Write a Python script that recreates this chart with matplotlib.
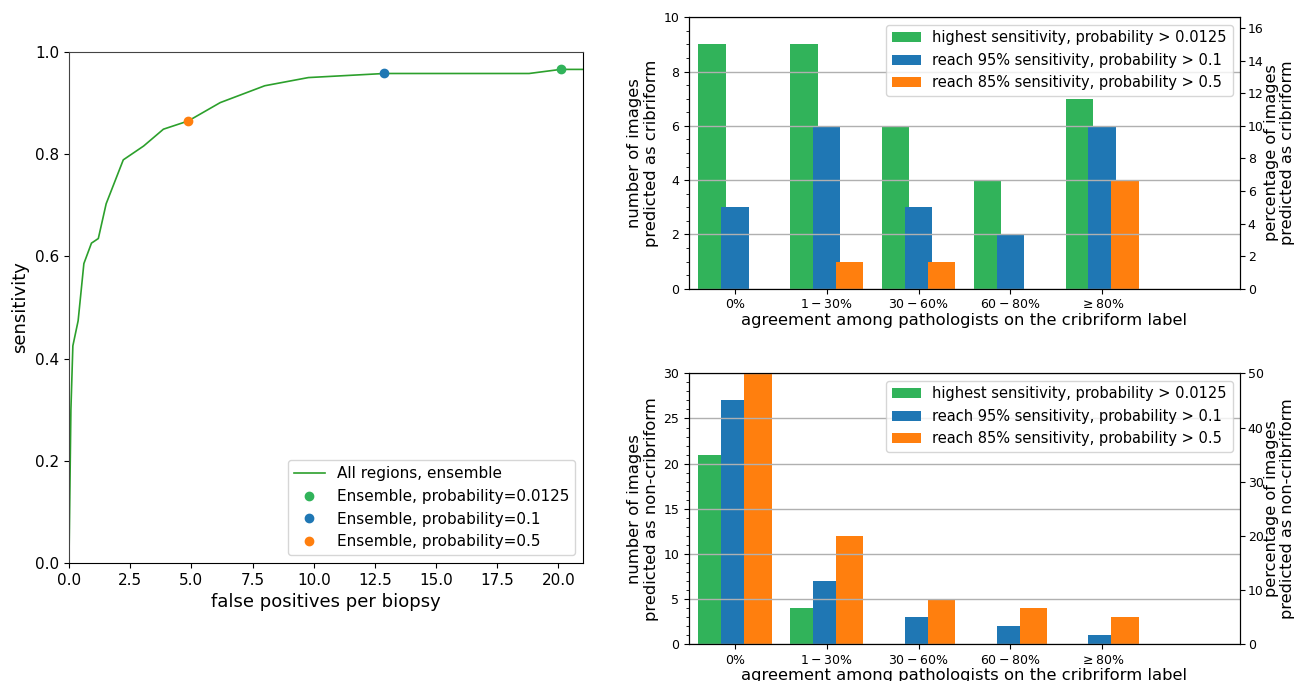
import matplotlib
matplotlib.use("Agg")
import matplotlib.pyplot as plt
import numpy as np
from matplotlib.ticker import AutoMinorLocator, MultipleLocator

GREEN = "#31b35a"
BLUE = "#1f77b4"
ORANGE = "#ff7f0e"

# FROC curve
fp = [0.0, 0.08, 0.16, 0.375, 0.61, 0.92, 1.2, 1.52, 2.22, 3.05, 3.86, 4.87,
      6.18, 8.0, 9.78, 12.89, 18.8, 20.09, 21.0]
sens = [0.0, 0.30, 0.425, 0.474, 0.586, 0.626, 0.635, 0.703, 0.789, 0.816,
        0.849, 0.865, 0.901, 0.934, 0.950, 0.958, 0.958, 0.966, 0.966]
op_fp = [20.09, 12.89, 4.87]
op_sens = [0.966, 0.958, 0.865]
op_prob = ["0.0125", "0.1", "0.5"]

categories = ["0%", r"$1-30$%", r"$30-60$%", r"$60-80$%", r"$\geq80$%"]
series = ["highest sensitivity, probability > 0.0125",
          "reach 95% sensitivity, probability > 0.1",
          "reach 85% sensitivity, probability > 0.5"]
cribriform = [[9, 9, 6, 4, 7],
              [3, 6, 3, 2, 6],
              [0, 1, 1, 0, 4]]
non_cribriform = [[21, 4, 0, 0, 0],
                  [27, 7, 3, 2, 1],
                  [30, 12, 5, 4, 3]]
n_images = 60

fig = plt.figure(figsize=(12.96, 6.81), dpi=100)

# left: FROC
ax = fig.add_axes([0.0532, 0.1733, 0.3966, 0.7503])
ax.plot(fp, sens, "-", color="#2ca02c", lw=1.2, label="All regions, ensemble")
for x, y, p, c in zip(op_fp, op_sens, op_prob, [GREEN, BLUE, ORANGE]):
    ax.plot(x, y, "o", color=c, ms=6, label=f"Ensemble, probability={p}")
ax.set_xlim(0, 21)
ax.set_ylim(0, 1.0)
ax.xaxis.set_major_locator(MultipleLocator(2.5))
ax.set_xlabel("false positives per biopsy", fontsize=13)
ax.set_ylabel("sensitivity", fontsize=13)
ax.tick_params(labelsize=11)
for s in ("left", "top"):
    ax.spines[s].set_color("#444444")
ax.legend(loc="lower right", fontsize=11)


def bar_panel(rect, data, ylim, ystep, pstep, ylab, plab):
    a = fig.add_axes(rect)
    x = np.arange(len(categories))
    colors = [GREEN, BLUE, ORANGE]
    for i, (vals, name) in enumerate(zip(data, series)):
        a.bar(x + (i - 1) * 0.25, vals, 0.3, color=colors[i], label=name)
    a.set_xlim(-0.5, 5.5)
    a.set_ylim(0, ylim)
    a.set_xticks(x)
    a.set_xticklabels(categories)
    a.yaxis.set_major_locator(MultipleLocator(ystep))
    a.yaxis.set_minor_locator(AutoMinorLocator())
    a.grid(axis="y", color="#b0b0b0", lw=1)
    a.tick_params(labelsize=9)
    a.set_xlabel("agreement among pathologists on the cribriform label", fontsize=11.8, labelpad=1)
    a.set_ylabel(ylab, fontsize=11.8, labelpad=3)
    a.legend(loc="upper right", fontsize=10.5)
    a2 = a.twinx()
    a2.set_ylim(0, ylim * 100 / n_images)
    a2.yaxis.set_major_locator(MultipleLocator(pstep))
    a2.tick_params(labelsize=9, pad=2)
    a2.set_ylabel(plab, fontsize=11.6, labelpad=0, linespacing=1.1)
    return a


bar_panel([0.5316, 0.5761, 0.4252, 0.3985], cribriform, 10, 2, 2,
          "number of images\npredicted as cribriform",
          "percentage of images\npredicted as cribriform")
bar_panel([0.5316, 0.0539, 0.4252, 0.3979], non_cribriform, 30, 5, 10,
          "number of images\npredicted as non-cribriform",
          "percentage of images\npredicted as non-cribriform")

fig.savefig("out.png", dpi=100)
